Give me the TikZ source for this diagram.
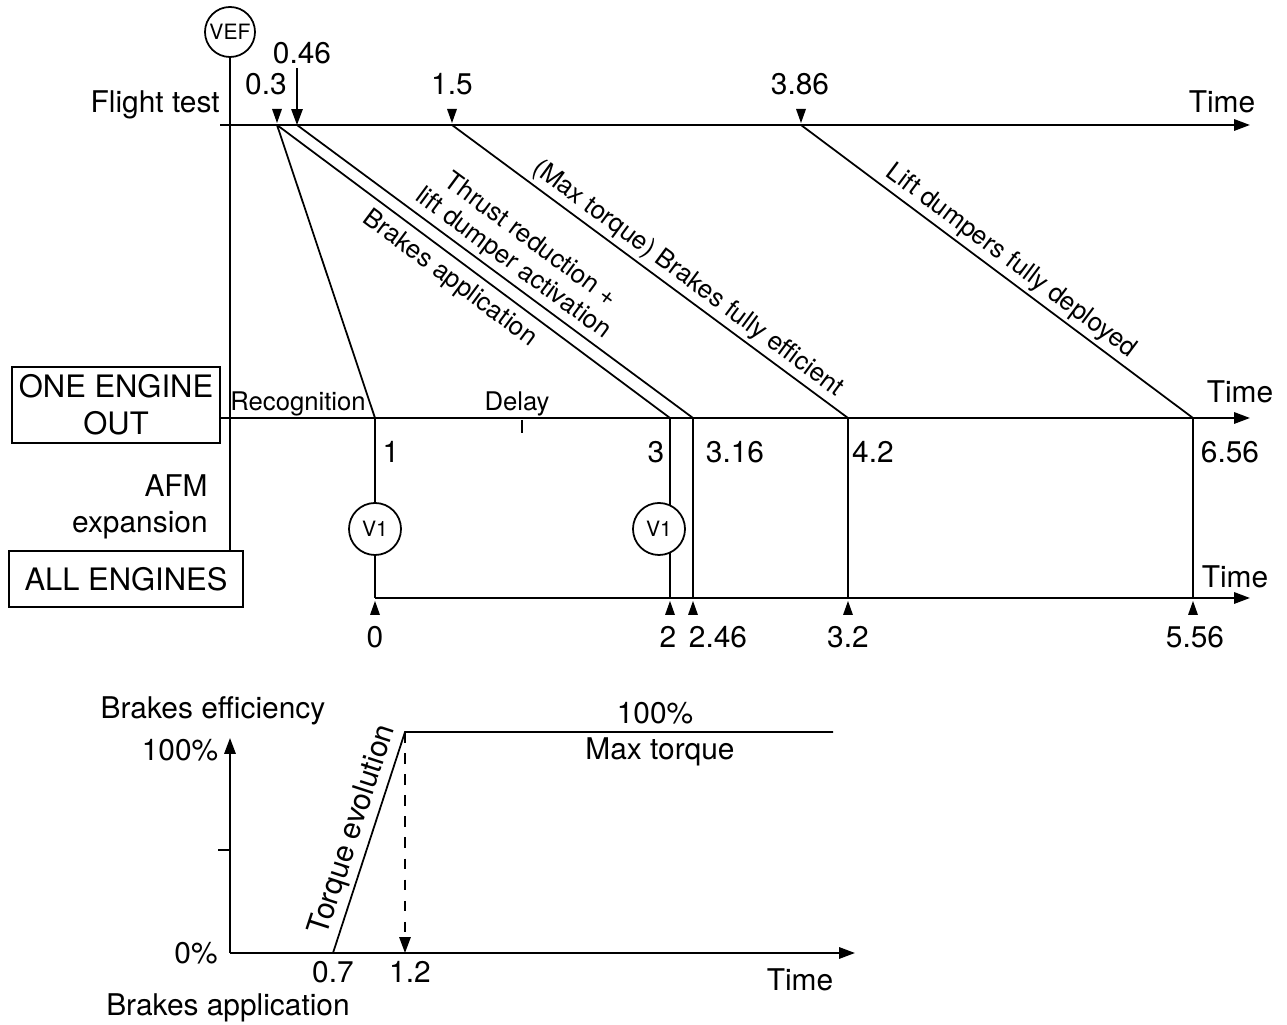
\documentclass[tikz,border=0pt]{standalone}
\usepackage{fontspec}
\setmainfont{TeX Gyre Heros}
\usetikzlibrary{arrows.meta}

\tikzset{
  lbl/.style={font=\fontsize{8.5}{10.4}\selectfont, inner sep=1pt},
  slbl/.style={font=\fontsize{7.3}{8.3}\selectfont, inner sep=1pt},
  evcirc/.style={circle, draw, fill=white, minimum size=0.52cm, inner sep=0pt,
    font=\fontsize{6}{7}\selectfont},
  enginebox/.style={draw, line width=0.6pt, font=\fontsize{8.8}{10.4}\selectfont,
    align=center, inner sep=1pt},
  timeaxis/.style={line width=0.6pt, -{Triangle[length=4.5pt,width=3.2pt]}},
}

\begin{document}
\begin{tikzpicture}[x=0.01cm, y=-0.01cm, line width=0.5pt]
  \useasboundingbox (0,0) rectangle (1287,1025);

  %% Boxes and left labels
  \node[enginebox, minimum width=2.07cm, minimum height=0.76cm] (oebox) at (116,405) {ONE ENGINE\\OUT};
  \node[enginebox, minimum width=2.33cm, minimum height=0.56cm] (allbox) at (126,579) {ALL ENGINES};
  \node[lbl, align=right, anchor=east] (afm) at (212,507) {AFM\\expansion};
  \node[lbl, anchor=east] (ftlbl) at (224,105) {Flight test};

  %% VEF and vertical reference line
  \node[evcirc, minimum size=0.5cm] (vef) at (230,32) {VEF};
  \draw (vef.south) -- (vef.south |- allbox.north);

  %% Time axes
  \coordinate (ft0) at (220,125);  \coordinate (ftEnd) at (1250,125);
  \coordinate (oe0) at (220,418);  \coordinate (oeEnd) at (1250,418);
  \coordinate (ae0) at (375,598);  \coordinate (aeEnd) at (1250,598);
  \draw[timeaxis] (ft0) -- (ftEnd);
  \draw[timeaxis] (oe0) -- (oeEnd);
  \draw[timeaxis] (ae0) -- (aeEnd);
  \node[lbl] (tm1) at (1222,102) {Time};
  \node[lbl] (tm2) at (1240,392) {Time};
  \node[lbl] (tm3) at (1235,577) {Time};

  %% Events: flight test
  \coordinate (t030) at (277,125);
  \coordinate (t046) at (297,125);
  \coordinate (t150) at (452,125);
  \coordinate (t386) at (801,125);
  \foreach \x in {277,452,801}
    \fill (\x,123) -- ++(-5,-14) -- ++(10,0) -- cycle;
  \node[lbl] (l030) at (266,84) {0.3};
  \node[lbl] (l046) at (302,53) {0.46};
  \node[lbl] (l150) at (452,84) {1.5};
  \node[lbl] (l386) at (800,84) {3.86};
  \draw[-{Triangle[length=4.5pt,width=3.2pt]}] (l046.south -| t046) -- (t046);

  %% Events: one engine out
  \coordinate (o100) at (375,418);
  \coordinate (o300) at (670,418);
  \coordinate (o316) at (693,418);
  \coordinate (o420) at (848,418);
  \coordinate (o656) at (1193,418);
  \node[slbl] (recog) at (298,404) {Recognition};
  \node[slbl] (delay) at (517,404) {Delay};
  \draw (522,420) -- (522,433);
  \node[lbl] (l100) at (391,452) {1};
  \node[lbl] (l300) at (656,452) {3};
  \node[lbl] (l316) at (735,452) {3.16};
  \node[lbl] (l420) at (873,452) {4.2};
  \node[lbl] (l656) at (1230,452) {6.56};

  %% Events: all engines
  \coordinate (a000) at (375,598);
  \coordinate (a200) at (670,598);
  \coordinate (a246) at (693,598);
  \coordinate (a320) at (848,598);
  \coordinate (a556) at (1193,598);
  \foreach \x in {375,670,693,848,1193}
    \fill (\x,601) -- ++(-5,14) -- ++(10,0) -- cycle;
  \node[lbl] (l000) at (375,637) {0};
  \node[lbl] (l200) at (668,637) {2};
  \node[lbl] (l246) at (718,637) {2.46};
  \node[lbl] (l320) at (848,637) {3.2};
  \node[lbl] (l556) at (1195,637) {5.56};

  %% Diagonal links flight test -> one engine out
  \draw (t030) -- (o100);
  \draw (t030) -- node[slbl, sloped, below=1pt, pos=0.47] {Brakes application} (o300);
  \draw (t046) -- node[slbl, sloped, above, pos=0.52, align=center]
    {Thrust reduction +\\lift dumper activation} (o316);
  \draw (t150) -- node[slbl, sloped, above, pos=0.57] {(Max torque) Brakes fully efficient} (o420);
  \draw (t386) -- node[slbl, sloped, above, pos=0.51] {Lift dumpers fully deployed} (o656);

  %% Verticals one engine out -> all engines
  \draw (o100) -- (a000);
  \draw (o300) -- (a200);
  \draw (o316) -- (a246);
  \draw (o420) -- (a320);
  \draw (o656) -- (a556);
  \node[evcirc] (v1a) at (375,529) {V1};
  \node[evcirc] (v1b) at (659,529) {V1};

  %% Brakes efficiency graph
  \coordinate (g0) at (230,953);
  \coordinate (gy) at (230,738);
  \coordinate (gx) at (855,953);
  \draw[timeaxis] (g0) -- (gy);
  \draw[timeaxis] (g0) -- (gx);
  \draw (218,850) -- (230,850);
  \coordinate (r0) at (333,953);
  \coordinate (r1) at (405,732);
  \coordinate (rEnd) at (833,732);
  \coordinate (rFoot) at (405,953);
  \draw (r0) -- node[lbl, sloped, above, pos=0.53] {Torque evolution} (r1) -- (rEnd);
  \draw[dashed, -{Triangle[length=4.5pt,width=3.2pt]}] (r1) -- (rFoot);
  \node[lbl] (beff) at (213,711) {Brakes efficiency};
  \node[lbl] (p100) at (180,750) {100\%};
  \node[lbl] (p0) at (196,953) {0\%};
  \node[lbl] (l07) at (333,972) {0.7};
  \node[lbl] (l12) at (410,972) {1.2};
  \node[lbl] (gtime) at (800,980) {Time};
  \node[lbl] (bapp) at (228,1008) {Brakes application};
  \node[lbl] (mx100) at (655,713) {100\%};
  \node[lbl] (mxtq) at (660,752) {Max torque};
\end{tikzpicture}
\end{document}
